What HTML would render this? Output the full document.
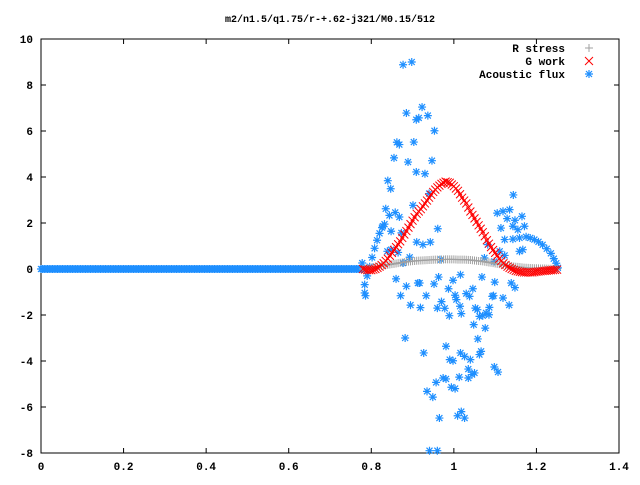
<!DOCTYPE html>
<html><head><meta charset="utf-8">
<style>
body{margin:0;background:#fff;}
svg text{font-family:"Liberation Mono",monospace;font-size:11px;font-weight:bold;fill:#000;}
</style></head>
<body>
<svg id="chart" width="640" height="480" viewBox="0 0 640 480" xmlns="http://www.w3.org/2000/svg">
<rect width="640" height="480" fill="#fff"/>
<text x="330" y="22" text-anchor="middle" style="font-size:10px">m2/n1.5/q1.75/r-+.62-j321/M0.15/512</text>
<g id="axes"></g>
<g id="marks"></g>
<g id="legend"></g>
</svg>
<script>
const xTicks=[0,0.2,0.4,0.6,0.8,1,1.2,1.4];
const xTickLabels=["0","0.2","0.4","0.6","0.8","1","1.2","1.4"];
const yTicks=[-8,-6,-4,-2,0,2,4,6,8,10];
const yTickLabels=["-8","-6","-4","-2","0","2","4","6","8","10"];
const curveX0=0.78, curveStep=0.01;
const rStress=[0,0.03,0.06,0.09,0.12,0.15,0.18,0.21,0.24,0.27,0.3,0.32,0.34,0.36,0.37,0.38,0.39,0.4,0.41,0.41,0.42,0.42,0.42,0.41,0.41,0.4,0.39,0.37,0.35,0.33,0.3,0.27,0.24,0.21,0.18,0.15,0.12,0.1,0.08,0.06,0.05,0.04,0.03,0.02,0.02,0.01,0.01,0];
const gWork=[0,-0.05,-0.05,0,0.1,0.25,0.45,0.7,0.95,1.2,1.5,1.8,2.1,2.4,2.6,2.85,3.1,3.35,3.55,3.7,3.8,3.75,3.6,3.4,3.1,2.85,2.5,2.2,1.9,1.6,1.25,0.95,0.7,0.45,0.25,0.1,0,-0.08,-0.12,-0.15,-0.15,-0.15,-0.12,-0.1,-0.08,-0.06,-0.05,-0.03];
const fluxZeroEnd=0.78;
const fluxX=[0.877,0.898,0.885,0.923,0.909,0.915,0.937,0.953,0.862,0.868,0.903,0.855,0.889,0.947,0.909,0.93,0.84,0.847,0.94,1.144,0.835,0.844,0.858,0.868,0.901,1.105,1.119,1.135,1.129,1.148,1.165,0.828,0.848,0.873,0.961,1.114,1.143,1.155,1.171,1.123,1.143,1.159,0.91,0.925,0.943,1.082,0.839,0.848,0.865,1.111,1.123,1.159,1.167,0.893,1.074,1.098,0.877,0.969,1.016,0.778,
0.79,0.796,0.802,0.808,0.814,0.82,0.826,0.832,
1.175,1.185,1.195,1.205,1.215,1.225,1.235,1.242,1.248,1.252,
0.784,0.784,0.786,0.86,0.885,0.913,0.917,0.952,0.963,0.998,0.987,0.871,0.933,0.895,0.919,1.003,1.006,1.03,1.038,1.046,1.068,1.099,1.096,1.093,1.139,1.148,1.119,1.134,0.96,0.97,0.978,0.989,1.015,1.018,1.052,1.057,1.086,1.085,1.078,1.07,1.062,1.048,1.076,0.882,1.058,0.927,0.981,1.016,1.026,1.04,1.062,1.066,0.99,0.998,1.035,1.098,1.107,0.974,0.981,1.013,1.035,1.044,1.05,0.935,0.949,0.957,0.994,1.003,0.965,1.009,1.018,1.026,0.941,0.96];
const fluxY=[8.88,9.0,6.78,7.04,6.49,6.57,6.67,6.01,5.51,5.41,5.52,4.83,4.65,4.71,4.22,4.14,3.84,3.49,3.28,3.22,2.62,2.33,2.46,2.26,2.77,2.43,2.51,2.58,2.19,2.12,2.29,1.86,1.64,1.57,1.75,1.78,1.86,1.71,1.86,1.28,1.3,1.35,1.17,1.06,1.17,1.06,0.77,0.84,0.72,0.77,0.59,0.77,0.84,0.51,0.48,0.33,0.26,0.41,-0.25,0.26,
-0.3,0.1,0.5,0.9,1.25,1.55,1.8,1.95,
1.4,1.35,1.28,1.18,1.05,0.88,0.68,0.45,0.25,0.05,
-0.68,-1.04,-1.16,-0.43,-0.75,-0.61,-0.61,-0.65,-0.35,-0.49,-0.86,-1.16,-1.16,-1.57,-1.68,-1.14,-1.33,-1.07,-1.19,-0.86,-0.35,-0.57,-1.16,-1.19,-0.61,-0.81,-1.26,-1.57,-1.7,-1.42,-1.71,-2.03,-1.62,-1.94,-1.7,-1.77,-1.67,-1.99,-1.91,-2.03,-2.06,-2.42,-2.57,-3.0,-3.04,-3.65,-3.36,-3.65,-3.8,-3.94,-3.72,-3.58,-3.94,-3.99,-4.35,-4.26,-4.48,-4.74,-4.78,-4.7,-4.74,-4.59,-4.52,-5.32,-5.57,-4.93,-5.14,-5.2,-6.48,-6.38,-6.2,-6.48,-7.9,-7.9];

const L=41,R=619,T=39,B=453;
const xMin=0,xMax=1.4,yMin=-8,yMax=10;
const sx=v=>L+(v-xMin)/(xMax-xMin)*(R-L);
const sy=v=>B-(v-yMin)/(yMax-yMin)*(B-T);
const NS="http://www.w3.org/2000/svg";
function mk(tag,attrs,parent){const e=document.createElementNS(NS,tag);for(const k in attrs)e.setAttribute(k,attrs[k]);parent.appendChild(e);return e;}
const axes=document.getElementById('axes'),marks=document.getElementById('marks'),leg=document.getElementById('legend');

const frame=mk('rect',{x:L,y:T,width:R-L,height:B-T,fill:'none',stroke:'#000','stroke-width':1},axes);


xTicks.forEach((t,i)=>{const x=sx(t);
 mk('line',{x1:x,y1:B,x2:x,y2:B-5,stroke:'#000'},axes);
 mk('line',{x1:x,y1:T,x2:x,y2:T+5,stroke:'#000'},axes);
 const tx=mk('text',{x:x,y:B+17,'text-anchor':'middle'},axes);tx.textContent=xTickLabels[i];
 
 
});
yTicks.forEach((t,i)=>{const y=sy(t);
 mk('line',{x1:L,y1:y,x2:L+5,y2:y,stroke:'#000'},axes);
 mk('line',{x1:R,y1:y,x2:R-5,y2:y,stroke:'#000'},axes);
 const tx=mk('text',{x:L-8,y:y+4,'text-anchor':'end'},axes);tx.textContent=yTickLabels[i];
 
 
});
function plus(x,y,c,g,n){const p=mk('path',{d:`M${x-4},${y}h8M${x},${y-4}v8`,stroke:c,'stroke-width':1,fill:'none'},g);}
function cross(x,y,c,g,n){const p=mk('path',{d:`M${x-4},${y-4}l8,8M${x-4},${y+4}l8,-8`,stroke:c,'stroke-width':1,fill:'none'},g);}
function star(x,y,c,g,n){const p=mk('path',{d:`M${x-4},${y}h8M${x},${y-4}v8M${x-3},${y-3}l6,6M${x-3},${y+3}l6,-6`,stroke:c,'stroke-width':1.2,fill:'none'},g);}
const BLUE='#1e8fff',GRAY='#a0a0a0',RED='#ff0000';
for(let x=0;x<=fluxZeroEnd+1e-9;x+=0.004){star(sx(x),sy(0),BLUE,marks,'acoustic-flux-point');}
fluxX.forEach((x,i)=>star(sx(x),sy(fluxY[i]),BLUE,marks,'acoustic-flux-point'));
rStress.forEach((v,i)=>{const x=curveX0+i*curveStep;plus(sx(x),sy(v),GRAY,marks,'r-stress-point');
 if(i<rStress.length-1){plus(sx(x+curveStep/2),sy((v+rStress[i+1])/2),GRAY,marks,'r-stress-point');}});
gWork.forEach((v,i)=>{const x=curveX0+i*curveStep;cross(sx(x),sy(v),RED,marks,'g-work-point');
 if(i<gWork.length-1){cross(sx(x+curveStep/2),sy((v+gWork[i+1])/2),RED,marks,'g-work-point');}});
const legendItems=[["R stress",GRAY,plus],["G work",RED,cross],["Acoustic flux",BLUE,star]];
legendItems.forEach((it,i)=>{const y=48+i*13;
 const t=mk('text',{x:565,y:y+4,'text-anchor':'end'},leg);t.textContent=it[0];
 
 
 it[2](589,y,it[1],leg,'legend-marker');});
</script>
</body></html>
